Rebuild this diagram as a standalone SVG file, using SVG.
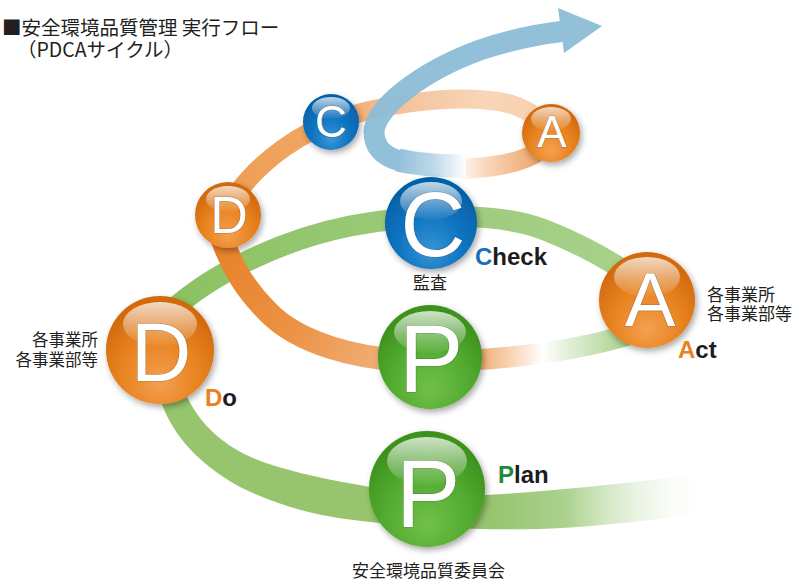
<svg xmlns="http://www.w3.org/2000/svg" width="794" height="582" viewBox="0 0 794 582">
  <style>
    .jp { font-family: "Noto Sans CJK JP", "Noto Sans CJK SC", sans-serif; fill: #231f20; }
    .lbl { font-family: "Liberation Sans", Arial, sans-serif; font-weight: bold; font-size: 24px; fill: #1d1d1f; }
    .ltr { font-family: "Liberation Sans", Arial, sans-serif; fill: #ffffff; stroke: rgba(60,60,60,0.35); stroke-width: 1.2; paint-order: stroke; text-anchor: middle; }
    .band { fill: none; stroke-linecap: butt; }
  </style>
  <defs>
    <!-- ball bodies -->
    <radialGradient id="orangeBall" cx="0.5" cy="0.7" r="0.62" fx="0.5" fy="0.82">
      <stop offset="0" stop-color="#f4a050"/>
      <stop offset="0.6" stop-color="#e8821e"/>
      <stop offset="1" stop-color="#d26a0e"/>
    </radialGradient>
    <radialGradient id="greenBall" cx="0.5" cy="0.7" r="0.62" fx="0.5" fy="0.82">
      <stop offset="0" stop-color="#72c04a"/>
      <stop offset="0.6" stop-color="#52ab30"/>
      <stop offset="1" stop-color="#3d921e"/>
    </radialGradient>
    <radialGradient id="blueBall" cx="0.5" cy="0.7" r="0.62" fx="0.5" fy="0.82">
      <stop offset="0" stop-color="#3a95d5"/>
      <stop offset="0.6" stop-color="#0b72bf"/>
      <stop offset="1" stop-color="#0661a7"/>
    </radialGradient>
    <linearGradient id="gloss" x1="0" y1="0" x2="0" y2="1">
      <stop offset="0" stop-color="#ffffff" stop-opacity="0.75"/>
      <stop offset="1" stop-color="#ffffff" stop-opacity="0.04"/>
    </linearGradient>
    <filter id="shadow" x="-30%" y="-30%" width="170%" height="170%">
      <feDropShadow dx="2" dy="3" stdDeviation="3" flood-color="#000" flood-opacity="0.35"/>
    </filter>

    <!-- ribbon colours -->
    <linearGradient id="gLow" gradientUnits="userSpaceOnUse" x1="490" y1="0" x2="710" y2="0">
      <stop offset="0" stop-color="#97c56d"/>
      <stop offset="0.35" stop-color="#acd28f"/>
      <stop offset="1" stop-color="#ffffff" stop-opacity="0"/>
    </linearGradient>
    <linearGradient id="gUp" gradientUnits="userSpaceOnUse" x1="180" y1="0" x2="620" y2="0">
      <stop offset="0" stop-color="#8cc263"/>
      <stop offset="1" stop-color="#a8d18b"/>
    </linearGradient>
    <linearGradient id="gMid" gradientUnits="userSpaceOnUse" x1="470" y1="0" x2="632" y2="0">
      <stop offset="0" stop-color="#f0a566"/>
      <stop offset="0.22" stop-color="#f6cda8"/>
      <stop offset="0.45" stop-color="#ffffff"/>
      <stop offset="0.6" stop-color="#e4f0d8"/>
      <stop offset="1" stop-color="#a3cf85"/>
    </linearGradient>
    <linearGradient id="oMid" gradientUnits="userSpaceOnUse" x1="400" y1="360" x2="222" y2="240">
      <stop offset="0" stop-color="#f2b27e"/>
      <stop offset="0.5" stop-color="#eb9244"/>
      <stop offset="1" stop-color="#e8822a"/>
    </linearGradient>
    <linearGradient id="oUp" gradientUnits="userSpaceOnUse" x1="240" y1="0" x2="545" y2="0">
      <stop offset="0" stop-color="#ef9e55"/>
      <stop offset="0.3" stop-color="#f0a868"/>
      <stop offset="0.55" stop-color="#f5c49c"/>
      <stop offset="0.8" stop-color="#f8d6b8"/>
      <stop offset="1" stop-color="#f8d0ae"/>
    </linearGradient>
    <linearGradient id="oLoop" gradientUnits="userSpaceOnUse" x1="455" y1="0" x2="545" y2="0">
      <stop offset="0" stop-color="#ffffff"/>
      <stop offset="0.3" stop-color="#f9dcc4"/>
      <stop offset="1" stop-color="#ed9d5a"/>
    </linearGradient>
    <linearGradient id="bFade" gradientUnits="userSpaceOnUse" x1="398" y1="0" x2="466" y2="0">
      <stop offset="0" stop-color="#8dbdd8"/>
      <stop offset="0.5" stop-color="#b8d6e8"/>
      <stop offset="1" stop-color="#ffffff"/>
    </linearGradient>
  </defs>

  <rect width="794" height="582" fill="#ffffff"/>

  <!-- heading -->
  <g id="title" class="jp" font-size="19.5">
    <text x="2" y="35">■安全環境品質管理 実行フロー</text>
    <text x="17" y="57">（PDCAサイクル）</text>
  </g>

  <!-- spiral ribbons -->
  <g id="ribbons">
    <!-- first turn: Plan to Do (green, fading out to the right) -->
    <path d="M 708,474 C 640,481 560,491 487,495 C 440,497 400,493 370,487 C 330,480 295,473 263,462 C 230,450 200,428 185,392 L 158,392 C 168,430 195,462 240,487 C 280,507 320,517 370,522 C 420,528 480,530 540,529 C 600,527 660,519 708,512 Z" fill="url(#gLow)"/>
    <!-- second turn, upper: small D, C, A (orange) -->
    <path class="band" d="M 238,192 C 262,160 300,132 345,117 C 400,100 470,94 510,104 C 528,109 538,118 545,125" stroke="url(#oUp)" stroke-width="19"/>
    <path class="band" d="M 540,150 C 525,162 495,168 455,169" stroke="url(#oLoop)" stroke-width="20"/>
    <!-- rising arrow -->
    <g opacity="0.95">
      <path class="band" d="M 466,166 C 440,166 415,164 398,160" stroke="url(#bFade)" stroke-width="23"/>
      <path class="band" d="M 400,161 C 383,156 374,147 374,132 C 375,108 420,72 480,50 C 512,39 540,34 565,31" stroke="#8dbdd8" stroke-width="21"/>
      <polygon points="558,8 602,26 564,53" fill="#8dbdd8"/>
    </g>
    <!-- first turn: Do to Check to Act (green) -->
    <path class="band" d="M 170,312 C 210,275 280,240 350,226 C 420,213 500,212 545,230 C 575,242 600,255 620,268" stroke="url(#gUp)" stroke-width="21"/>
    <!-- Act back to the second Plan -->
    <path class="band" d="M 632,334 C 585,348 530,357 470,360" stroke="url(#gMid)" stroke-width="21"/>
    <!-- second Plan up to small D (orange) -->
    <path class="band" d="M 400,360 C 360,358 300,345 268,312 C 246,290 232,268 221,236" stroke="url(#oMid)" stroke-width="23"/>
  </g>

  <!-- big Plan -->
  <g id="node-plan">
    <circle cx="427" cy="489" r="58" fill="url(#greenBall)" filter="url(#shadow)"/>
    <ellipse cx="427" cy="461" rx="40" ry="24" fill="url(#gloss)"/>
    <text class="ltr" x="428" y="527" font-size="97">P</text>
  </g>

  <!-- big Do -->
  <g id="node-do">
    <circle cx="160" cy="350" r="54" fill="url(#orangeBall)" filter="url(#shadow)"/>
    <ellipse cx="160" cy="324" rx="37" ry="22" fill="url(#gloss)"/>
    <text class="ltr" x="161" y="381" font-size="84">D</text>
  </g>

  <!-- big Check -->
  <g id="node-check">
    <circle cx="431" cy="223" r="46" fill="url(#blueBall)" filter="url(#shadow)"/>
    <ellipse cx="431" cy="201" rx="31" ry="19" fill="url(#gloss)"/>
    <text class="ltr" x="433" y="256" font-size="90">C</text>
  </g>

  <!-- big Act -->
  <g id="node-act">
    <circle cx="647" cy="300" r="48" fill="url(#orangeBall)" filter="url(#shadow)"/>
    <ellipse cx="647" cy="277" rx="33" ry="20" fill="url(#gloss)"/>
    <text class="ltr" x="650" y="326" font-size="76">A</text>
  </g>

  <!-- second Plan -->
  <g id="node-plan-2">
    <circle cx="430" cy="357" r="52" fill="url(#greenBall)" filter="url(#shadow)"/>
    <ellipse cx="430" cy="332" rx="36" ry="21" fill="url(#gloss)"/>
    <text class="ltr" x="431" y="392" font-size="97">P</text>
  </g>

  <!-- second Do -->
  <g id="node-do-2">
    <circle cx="228" cy="215" r="33" fill="url(#orangeBall)" filter="url(#shadow)"/>
    <ellipse cx="228" cy="199" rx="22" ry="13" fill="url(#gloss)"/>
    <text class="ltr" x="229" y="233" font-size="52">D</text>
  </g>

  <!-- second Check -->
  <g id="node-check-2">
    <circle cx="331" cy="122" r="28" fill="url(#blueBall)" filter="url(#shadow)"/>
    <ellipse cx="331" cy="108" rx="19" ry="11" fill="url(#gloss)"/>
    <text class="ltr" x="331" y="137" font-size="44">C</text>
  </g>

  <!-- second Act -->
  <g id="node-act-2">
    <circle cx="551" cy="133" r="29" fill="url(#orangeBall)" filter="url(#shadow)"/>
    <ellipse cx="551" cy="119" rx="20" ry="12" fill="url(#gloss)"/>
    <text class="ltr" x="552" y="147" font-size="44">A</text>
  </g>

  <!-- labels -->
  <g id="labels">
    <text class="lbl" x="498" y="483"><tspan fill="#1e8a3a">P</tspan>lan</text>
    <text class="lbl" x="205" y="406"><tspan fill="#e8821e">D</tspan>o</text>
    <text class="lbl" x="475" y="265" font-size="23.5"><tspan fill="#1a6fb5">C</tspan>heck</text>
    <text class="lbl" x="678" y="358"><tspan fill="#e8821e">A</tspan>ct</text>

    <text class="jp" x="430" y="289" font-size="17" text-anchor="middle">監査</text>
    <text class="jp" x="352" y="577" font-size="17">安全環境品質委員会</text>
    <g class="jp" font-size="16.5" text-anchor="end">
      <text x="98" y="346">各事業所</text>
      <text x="98" y="366">各事業部等</text>
    </g>
    <g class="jp" font-size="17">
      <text x="707" y="301">各事業所</text>
      <text x="707" y="320">各事業部等</text>
    </g>
  </g>
</svg>
